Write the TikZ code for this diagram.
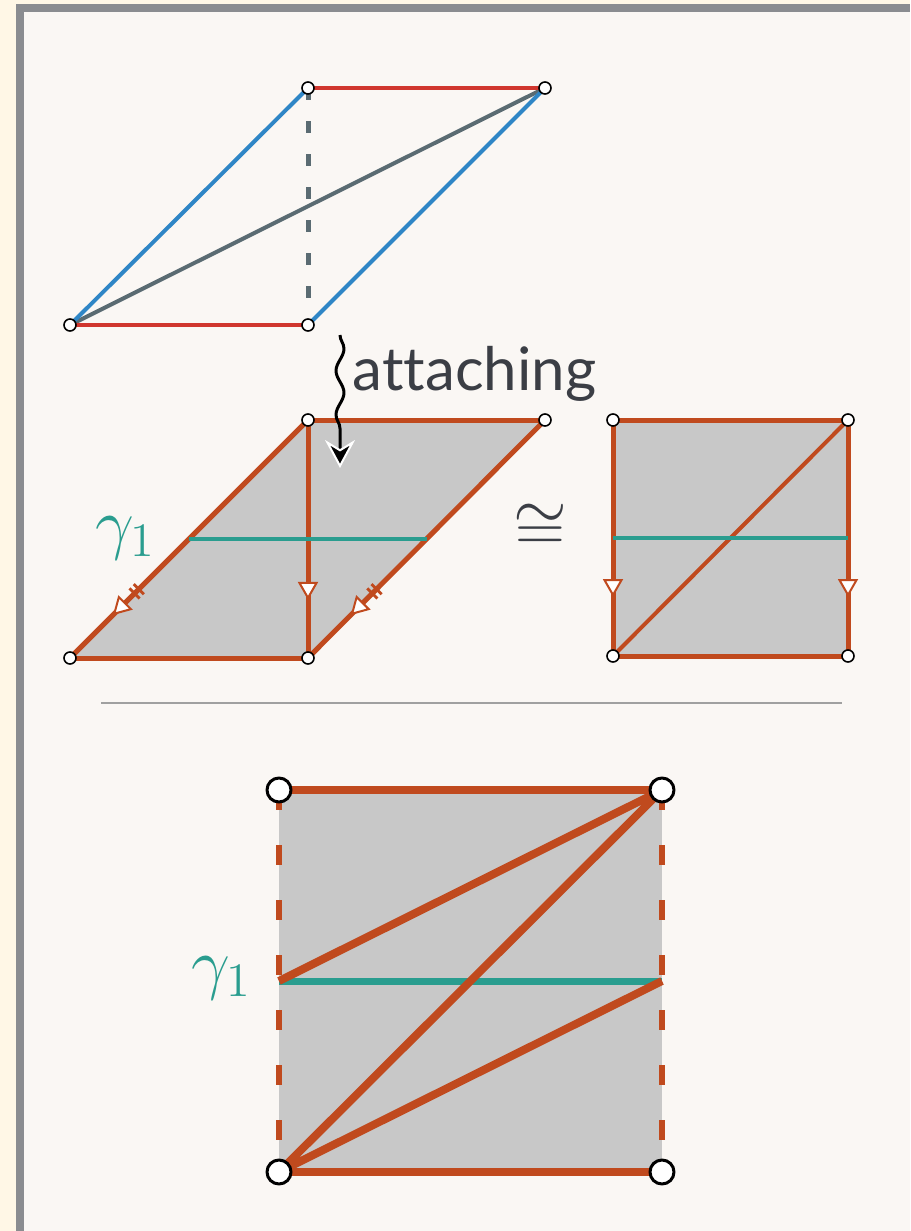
\documentclass[tikz,border=0pt]{standalone}
\usepackage{fontspec}
\setsansfont{Lato}[Ligatures=NoCommon]
\usetikzlibrary{arrows.meta,calc,decorations.markings,decorations.pathmorphing}
\definecolor{cream}{HTML}{FFF7E6}
\definecolor{paper}{HTML}{FAF7F4}
\definecolor{framegray}{HTML}{8A8C90}
\definecolor{edgered}{HTML}{D0362E}
\definecolor{edgeblue}{HTML}{2F86C6}
\definecolor{slate}{HTML}{5A6B72}
\definecolor{rust}{HTML}{C04A1E}
\definecolor{tealc}{HTML}{2A9D8F}
\definecolor{cellgray}{HTML}{C8C8C8}
\definecolor{ink}{HTML}{3B3E45}
\definecolor{rulegray}{HTML}{A0A0A0}
\tikzset{
  vtx/.style={circle,draw,fill=white,line width=0.4pt,minimum size=3pt,inner sep=0pt},
  bigvtx/.style={circle,draw,fill=white,line width=0.75pt,minimum size=6pt,inner sep=0pt},
  midarrow/.style={postaction={decorate,decoration={markings,
      mark=at position #1 with {\arrow{Triangle[length=4.5pt,width=5pt,fill=white,line width=0.5pt]}}}}},
  ticks/.style={postaction={decorate,decoration={markings,
      mark=at position #1 with {\draw[line width=0.7pt] (-0.75pt,-1.8pt)--(-0.75pt,1.8pt) (0.75pt,-1.8pt)--(0.75pt,1.8pt);}}}},
  every picture/.style={line join=round}
}
\begin{document}
\begin{tikzpicture}[x=0.25pt,y=-0.25pt]
  \useasboundingbox (0,0) rectangle (910,1231);
  \fill[cream] (0,0) rectangle (910,1231);
  \fill[framegray] (16,4) rectangle (910,1231);
  \fill[paper] (24,12) rectangle (910,1231);
  % strip before attaching
  \coordinate (bl) at (70,325);
  \coordinate (br) at (308,325);
  \coordinate (tl) at (308,88);
  \coordinate (tr) at (545,88);
  \draw[slate,line width=1pt] (bl)--(tr);
  \draw[slate,line width=1.25pt,dash pattern=on 3pt off 5.25pt] (tl)--(br);
  \draw[edgeblue,line width=1pt] (bl)--(tl) (br)--(tr);
  \draw[edgered,line width=1pt] (bl)--(br) (tl)--(tr);
  % glued cell
  \coordinate (mbl) at (70,658);
  \coordinate (mbr) at (308,658);
  \coordinate (mtl) at (308,420);
  \coordinate (mtr) at (545,420);
  \coordinate (mga) at ($(mbl)!.5!(mtl)$);
  \coordinate (mgb) at ($(mbr)!.5!(mtr)$);
  \fill[cellgray] (mbl)--(mtl)--(mtr)--(mbr)--cycle;
  \draw[rust,line width=1.25pt] (mbl)--(mbr) (mtl)--(mtr);
  \draw[rust,line width=1.25pt,ticks=0.72,midarrow=0.82] (mtl)--(mbl);
  \draw[rust,line width=1.25pt,ticks=0.72,midarrow=0.82] (mtr)--(mbr);
  \draw[rust,line width=1.25pt,midarrow=0.756] (mtl)--(mbr);
  \draw[tealc,line width=1pt] (mga)--(mgb);
  \node[text=tealc,font=\LARGE] (gl1) at (126,538) {$\gamma_1$};
  \node[text=ink,font=\LARGE] (iso) at (540,528) {$\cong$};
  % attaching arrow
  \coordinate (sqa) at (340,335);
  \coordinate (sqb) at (340,468);
  \draw[black,line width=0.75pt,decorate,
        decoration={snake,amplitude=1pt,segment length=11pt,post length=6pt},
        -{Stealth[length=7pt,width=7.5pt,color=white,fill=black,line width=0.5pt]}] (sqa)--(sqb);
  \node[anchor=base west,inner sep=0pt,text=ink,font=\sffamily\fontsize{15}{18}\selectfont] (att) at (352,390) {attaching};
  % square
  \coordinate (sbl) at (613,656);
  \coordinate (sbr) at (848,656);
  \coordinate (stl) at (613,420);
  \coordinate (str) at (848,420);
  \coordinate (sga) at ($(sbl)!.5!(stl)$);
  \coordinate (sgb) at ($(sbr)!.5!(str)$);
  \fill[cellgray] (sbl) rectangle (str);
  \draw[rust,line width=1.25pt] (stl)--(str) (sbl)--(sbr);
  \draw[rust,line width=1pt] (sbl)--(str);
  \draw[rust,line width=1.25pt,midarrow=0.75] (stl)--(sbl);
  \draw[rust,line width=1.25pt,midarrow=0.75] (str)--(sbr);
  \draw[tealc,line width=1pt] (sga)--(sgb);
  % rule
  \coordinate (rl) at (101,703);
  \coordinate (rr) at (842,703);
  \draw[rulegray,line width=0.5pt] (rl)--(rr);
  % big square
  \coordinate (qbl) at (279,1172);
  \coordinate (qbr) at (662,1172);
  \coordinate (qtl) at (279,790);
  \coordinate (qtr) at (662,790);
  \coordinate (qga) at ($(qbl)!.5!(qtl)$);
  \coordinate (qgb) at ($(qbr)!.5!(qtr)$);
  \fill[cellgray] (qbl) rectangle (qtr);
  \draw[rust,line width=1.5pt,dash pattern=on 5pt off 8.75pt] (qtl)--(qbl) (qtr)--(qbr);
  \draw[tealc,line width=1.75pt] (qga)--(qgb);
  \draw[rust,line width=2pt] (qtl)--(qtr) (qbl)--(qbr);
  \draw[rust,line width=2pt] (qtr)--(qga) (qbl)--(qgb) (qbl)--(qtr);
  \node[text=tealc,font=\LARGE] (gl2) at (222,978) {$\gamma_1$};
  % vertices
  \foreach \p in {bl,br,tl,tr,mbl,mbr,mtl,mtr,sbl,sbr,stl,str}
    \node[vtx] (v\p) at (\p) {};
  \foreach \p in {qbl,qbr,qtl,qtr}
    \node[bigvtx] (v\p) at (\p) {};
\end{tikzpicture}
\end{document}
